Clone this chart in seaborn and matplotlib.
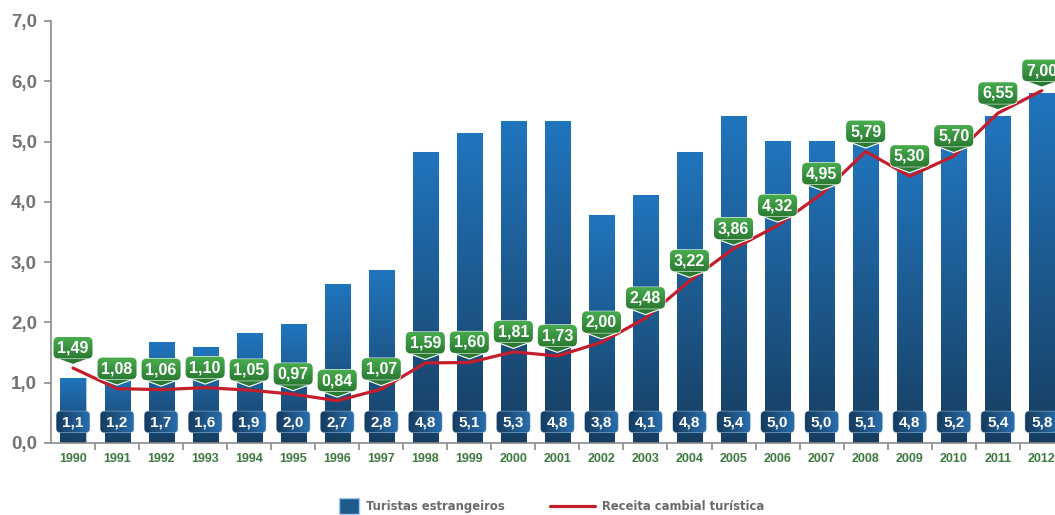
import os
import numpy as np
import matplotlib
matplotlib.use("Agg")
import matplotlib.pyplot as plt
import matplotlib.transforms as mtransforms
from matplotlib import font_manager as fm
from matplotlib.patches import FancyBboxPatch, Polygon, Patch
from matplotlib.lines import Line2D
from matplotlib.ticker import FuncFormatter
from matplotlib.colors import LinearSegmentedColormap
import seaborn as sns

# Data
anos = ['1990', '1991', '1992', '1993', '1994', '1995', '1996', '1997', '1998', '1999',
        '2000', '2001', '2002', '2003', '2004', '2005', '2006', '2007', '2008', '2009',
        '2010', '2011', '2012']
# bar heights as drawn
turistas_barra = [1.07, 1.19, 1.67, 1.59, 1.82, 1.97, 2.64, 2.87, 4.83, 5.14,
                  5.34, 5.34, 3.78, 4.11, 4.83, 5.42, 5.01, 5.01, 5.00, 4.72,
                  4.98, 5.42, 5.80]
# value labels printed on the bars
turistas_rotulo = ['1,1', '1,2', '1,7', '1,6', '1,9', '2,0', '2,7', '2,8', '4,8', '5,1',
                   '5,3', '4,8', '3,8', '4,1', '4,8', '5,4', '5,0', '5,0', '5,1', '4,8',
                   '5,2', '5,4', '5,8']
receita = [1.49, 1.08, 1.06, 1.10, 1.05, 0.97, 0.84, 1.07, 1.59, 1.60,
           1.81, 1.73, 2.00, 2.48, 3.22, 3.86, 4.32, 4.95, 5.79, 5.30,
           5.70, 6.55, 7.00]

sns.set_theme(style="white")


def is_bold(f):
    return f.weight in ('bold', 700, '700') and f.style == 'normal'


# regular-width bold face (Arial-like) and a condensed bold face for the legend
def find_font(test):
    for f in fm.fontManager.ttflist:
        if test(f):
            return f.fname
    return None


bold_file = find_font(lambda f: f.name == 'Liberation Sans' and is_bold(f)
                      and 'narrow' not in os.path.basename(f.fname).lower()
                      and str(f.stretch) in ('normal', '500', 'medium'))
if bold_file:
    BOLD = dict(fname=bold_file)
else:
    BOLD = dict(family='DejaVu Sans', weight='bold')

cond_file = find_font(lambda f: is_bold(f) and ('narrow' in os.path.basename(f.fname).lower()
                                               or 'condensed' in os.path.basename(f.fname).lower()))
if cond_file:
    cond_fp = fm.FontProperties(fname=cond_file, size=9.3)
else:
    cond_fp = fm.FontProperties(size=7.8, **BOLD)


def fp(size):
    return fm.FontProperties(size=size, **BOLD)


DPI = 100
fig = plt.figure(figsize=(10.55, 5.15), dpi=DPI)
ax = fig.add_axes([51 / 1055, 72 / 515, 1 - 51 / 1055, 422 / 515])

# bars
sns.barplot(x=anos, y=turistas_barra, ax=ax, width=0.57, color='#1f5f99',
            edgecolor='#a9c9e8', linewidth=0.8, zorder=2)

# vertical gradient inside every bar
grad_v = np.linspace(0, 1, 256).reshape(-1, 1)
grad_h = np.linspace(0, 1, 256).reshape(1, -1)
azul = LinearSegmentedColormap.from_list('azul', ['#173e60', '#2175bd'])
azul_box = LinearSegmentedColormap.from_list('azul_box', ['#163a5c', '#2a6fae'])
verde = LinearSegmentedColormap.from_list('verde', ['#2a7a33', '#4aae4f'])
for p in list(ax.patches):
    x0, w, h = p.get_x(), p.get_width(), p.get_height()
    im = ax.imshow(grad_v, extent=[x0, x0 + w, 0, h], origin='lower', cmap=azul,
                   aspect='auto', zorder=2.5)
    im.set_clip_path(p)

ax.set_xlim(-0.5, 22.3)
ax.set_ylim(0, 7)

# axes styling
for s in ['top', 'right']:
    ax.spines[s].set_visible(False)
for s in ['left', 'bottom']:
    ax.spines[s].set_color('#8a8a8a')
    ax.spines[s].set_linewidth(1.2)
ax.set_yticks(np.arange(0, 8, 1))
ax.yaxis.set_major_formatter(FuncFormatter(lambda v, _: f"{v:.1f}".replace('.', ',')))
ax.tick_params(axis='y', left=True, length=5, width=1.2, color='#8a8a8a',
               labelcolor='#737373', pad=5)
ax.set_xticks(np.arange(len(anos)))
ax.set_xticklabels(anos)
ax.set_xticks(np.arange(len(anos)) + 0.5, minor=True)
ax.tick_params(axis='x', which='major', bottom=False, labelcolor='#3d7a3f', pad=1.5)
ax.tick_params(axis='x', which='minor', bottom=True, length=5, width=1.2, color='#8a8a8a')
for t in ax.get_yticklabels():
    t.set_fontproperties(fp(13.5))
for t in ax.get_xticklabels():
    t.set_fontproperties(fp(9))
ax.set_xlabel('')
ax.set_ylabel('')
ax.grid(False)

# value boxes on bars
for i, lab in enumerate(turistas_rotulo):
    tr = fig.dpi_scale_trans + mtransforms.ScaledTranslation(i, 0.35, ax.transData)
    box = FancyBboxPatch((-0.165, -0.105), 0.33, 0.21,
                         boxstyle='round,pad=0,rounding_size=0.04',
                         transform=tr, facecolor='#1c4b78', edgecolor='#8fb6dc',
                         linewidth=0.8, zorder=4, clip_on=False)
    ax.add_patch(box)
    im = ax.imshow(grad_h, extent=[-0.17, 0.17, -0.11, 0.11], transform=tr,
                   cmap=azul_box, aspect='auto', zorder=4.1)
    im.set_clip_path(box)
    ax.text(0, -0.005, lab, transform=tr, ha='center', va='center', color='white',
            fontproperties=fp(11), zorder=5)
ax.set_xlim(-0.5, 22.3)
ax.set_ylim(0, 7)

# revenue line on a hidden twin scale
ax2 = ax.twinx()
sns.lineplot(x=np.arange(len(anos)), y=receita, ax=ax2, color='#c41e2d',
             linewidth=2.3, zorder=3)
ax2.set_ylim(0, 7 / 0.835)
ax2.set_xlim(-0.5, 22.3)
ax2.axis('off')

# green tags above line points
for i, v in enumerate(receita):
    tr = fig.dpi_scale_trans + mtransforms.ScaledTranslation(i, v, ax2.transData)
    body = FancyBboxPatch((-0.195, 0.095), 0.39, 0.215,
                          boxstyle='round,pad=0,rounding_size=0.05',
                          transform=tr, facecolor='#37963f', edgecolor='white',
                          linewidth=0.8, zorder=6, clip_on=False)
    tip = Polygon([(-0.19, 0.105), (0.19, 0.105), (0, 0.035)], closed=True,
                  transform=tr, facecolor='#2a7a33', edgecolor='white',
                  linewidth=0.8, zorder=5.9, clip_on=False)
    ax2.add_patch(tip)
    ax2.add_patch(body)
    im = ax2.imshow(grad_v, extent=[-0.2, 0.2, 0.09, 0.315], transform=tr,
                    origin='lower', cmap=verde, aspect='auto', zorder=6.1)
    im.set_clip_path(body)
    ax2.text(0, 0.2, f"{v:.2f}".replace('.', ','), transform=tr, ha='center',
             va='center', color='white', fontproperties=fp(11.5),
             zorder=7, clip_on=False)
ax2.set_ylim(0, 7 / 0.835)
ax2.set_xlim(-0.5, 22.3)

# legend, two separate entries
leg1 = fig.legend(handles=[Patch(facecolor='#1f5a8f', edgecolor='#a9c9e8',
                                 label='Turistas estrangeiros')],
                  loc='center left', bbox_to_anchor=(339 / 1055, 9 / 515),
                  frameon=False, prop=cond_fp, labelcolor='#6a6a6a',
                  handlelength=1.55, handleheight=1.5, handletextpad=0.55,
                  borderpad=0, borderaxespad=0)
leg2 = fig.legend(handles=[Line2D([], [], color='#c41e2d', linewidth=2.3,
                                  label='Receita cambial turística')],
                  loc='center left', bbox_to_anchor=(550 / 1055, 8 / 515),
                  frameon=False, prop=cond_fp, labelcolor='#6a6a6a',
                  handlelength=3.5, handletextpad=0.55,
                  borderpad=0, borderaxespad=0)

fig.savefig('out.png', dpi=DPI)
